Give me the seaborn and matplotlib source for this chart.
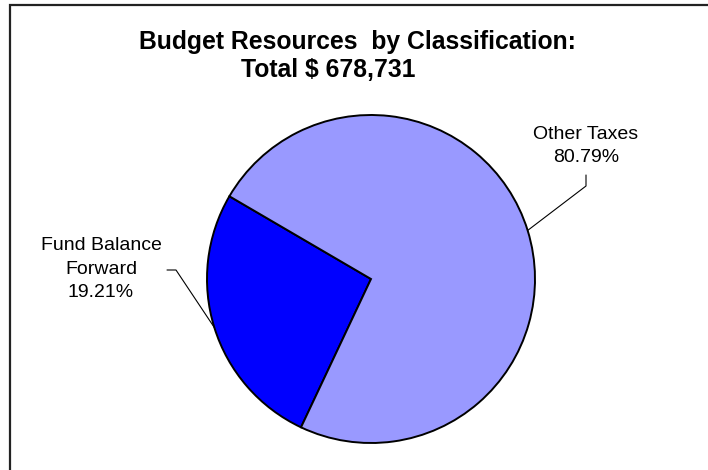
import numpy as np
import matplotlib
matplotlib.use('Agg')
import matplotlib.pyplot as plt
import seaborn as sns
from matplotlib.patches import Rectangle

# data
categories = ['Fund Balance\nForward', 'Other Taxes']
pct_labels = ['19.21%', '80.79%']
# wedge sizes as they are drawn in the reference (the drawn slice is wider than its label)
wedge_share = [26.4, 73.6]
colors = ['#0000FF', '#9999FF']

title_line1 = 'Budget Resources  by Classification:'
title_line2 = 'Total $ 678,731'

sns.set_theme(style='white')
plt.rcParams['font.family'] = ['Liberation Sans', 'DejaVu Sans']
plt.rcParams['text.color'] = 'black'

W, H = 708, 470
fig = plt.figure(figsize=(W / 100, H / 100), dpi=100)
# axes in pixel units (y up)
ax = fig.add_axes([0, 0, 1, 1])

cx, cy, r = 371, H - 279, 164
wedges, _ = ax.pie(wedge_share, colors=colors, startangle=149.7, center=(cx, cy),
                   radius=r, wedgeprops=dict(edgecolor='black', linewidth=1.4))
ax.set_xlim(0, W)
ax.set_ylim(0, H)
ax.set_aspect('equal')
ax.axis('off')

# labels with leader lines pointing to wedge middles
label_pos = [(101, H - 269), (586, H - 146)]
elbows = [[(167, H - 270), (176, H - 270)], [(586, H - 175), (586, H - 186)]]
for w, cat, pct, (lx, ly), elb in zip(wedges, categories, pct_labels, label_pos, elbows):
    mid = np.deg2rad((w.theta1 + w.theta2) / 2)
    ex, ey = cx + r * np.cos(mid), cy + r * np.sin(mid)
    xs = [p[0] for p in elb] + [ex]
    ys = [p[1] for p in elb] + [ey]
    ax.plot(xs, ys, color='black', linewidth=0.8)
    ax.text(lx, ly, cat + '\n' + pct, ha='center', va='center', fontsize=14,
            linespacing=1.5, color='black')

fig.text(357 / W, 1 - 42 / H, title_line1, ha='center', va='center',
         fontsize=17.8, fontweight='bold', color='black')
fig.text(328 / W, 1 - 70 / H, title_line2, ha='center', va='center',
         fontsize=17.8, fontweight='bold', color='black')

# frame: only left and top edges are visible in the crop
fig.patches.append(Rectangle((10 / W, -0.1), 1.2, 1 - 5 / H + 0.1, transform=fig.transFigure,
                             fill=False, edgecolor='#222222', linewidth=1.6))

fig.savefig('out.png', dpi=100, facecolor='white')
plt.close(fig)
